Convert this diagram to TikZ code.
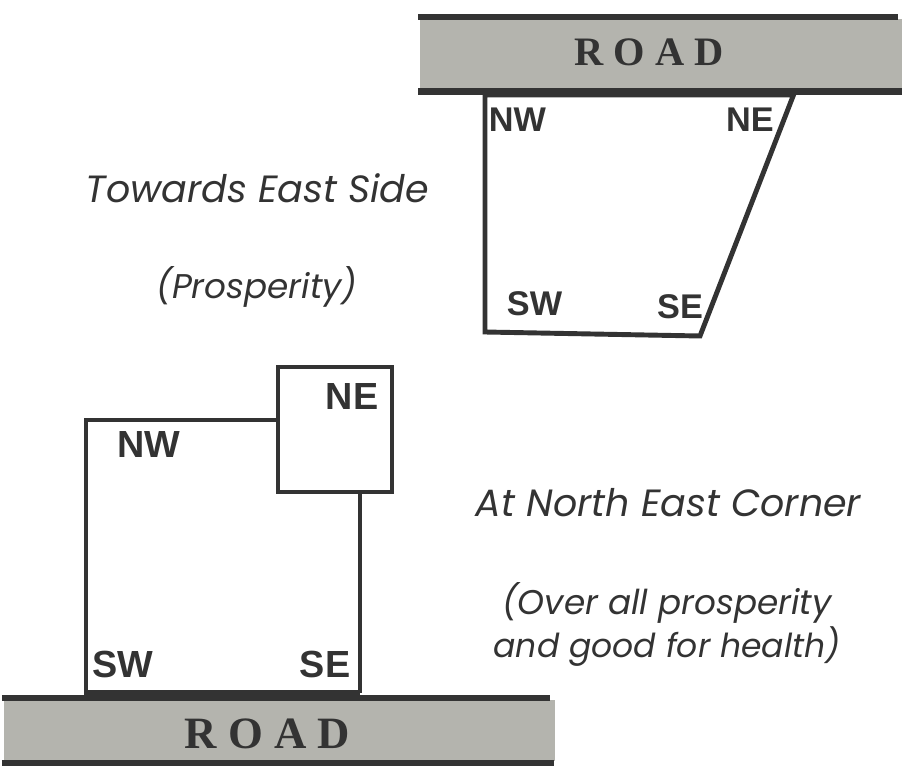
\documentclass[tikz,border=0pt]{standalone}
\usepackage{fontspec}
\setmainfont{Liberation Sans}
\newfontfamily\roadfont{Liberation Serif}
\newfontfamily\notefont{Poppins}
\definecolor{roadgray}{HTML}{B4B4AE}
\definecolor{inkgray}{HTML}{333333}
\tikzset{
  roadline/.style={draw=inkgray,line width=3.5pt},
  lotline/.style={draw=inkgray,line width=2.8pt,line join=miter},
  roadname/.style={text=inkgray,font=\roadfont\bfseries},
  corner/.style={text=inkgray,font=\bfseries},
  note/.style={text=inkgray,font=\notefont\itshape\fontsize{19.5}{24}\selectfont,align=center},
  bignote/.style={text=inkgray,font=\notefont\itshape\fontsize{21.6}{26}\selectfont,align=center}
}
\begin{document}
\begin{tikzpicture}
    \useasboundingbox (0,0) rectangle (18.2,15.46);

    % upper road and plot
    \fill[roadgray] (8.4,13.7) rectangle (18.04,15.08);
    \coordinate (ua) at (8.36,15.12);
    \coordinate (ub) at (17.96,15.12);
    \coordinate (uc) at (8.36,13.63);
    \coordinate (ud) at (18.04,13.63);
    \draw[roadline] (ua)--(ub);
    \draw[roadline] (uc)--(ud);
    \node[roadname,font=\roadfont\bfseries\fontsize{23}{23}\selectfont] (uroad) at (12.98,14.42) {R O A D};
    \coordinate (p1) at (9.7,13.56);
    \coordinate (p2) at (15.87,13.56);
    \coordinate (p3) at (14.0,8.74);
    \coordinate (p4) at (9.7,8.82);
    \draw[lotline] (p1)--(p2)--(p3)--(p4)--cycle;
    \node[corner,font=\bfseries\fontsize{19.5}{20}\selectfont] (unw) at (10.35,13.06) {NW};
    \node[corner,font=\bfseries\fontsize{19.5}{20}\selectfont] (une) at (15.0,13.06) {NE};
    \node[corner,font=\bfseries\fontsize{19.5}{20}\selectfont] (usw) at (10.69,9.39) {SW};
    \node[corner,font=\bfseries\fontsize{19.5}{20}\selectfont] (use) at (13.6,9.32) {SE};

    \node[bignote] (east) at (5.15,11.7) {Towards East Side};
    \node[note] (pros) at (5.14,9.72) {(Prosperity)};

    % lower road and plot
    \fill[roadgray] (0.08,0.24) rectangle (11.1,1.46);
    \coordinate (la) at (0.04,1.5);
    \coordinate (lb) at (11.0,1.5);
    \coordinate (lc) at (0.04,0.2);
    \coordinate (ld) at (11.08,0.2);
    \draw[roadline] (la)--(lb);
    \draw[roadline] (lc)--(ld);
    \node[roadname,font=\roadfont\bfseries\fontsize{25.5}{26}\selectfont] (lroad) at (5.35,0.78) {R O A D};
    \coordinate (q1) at (1.72,1.6);
    \coordinate (q2) at (1.72,7.06);
    \coordinate (q3) at (5.56,7.06);
    \coordinate (q4) at (7.2,5.62);
    \coordinate (q5) at (7.2,1.6);
    \draw[lotline] (q5)--(q1)--(q2)--(q3);
    \draw[lotline] (q4)--(q5);
    \draw[lotline] (5.56,5.62) rectangle (7.84,8.12);
    \draw[roadline] (q1)--(q5);
    \node[corner,font=\bfseries\fontsize{21.5}{22}\selectfont] (lnw) at (2.98,6.56) {NW};
    \node[corner,font=\bfseries\fontsize{21.5}{22}\selectfont] (lne) at (7.04,7.52) {NE};
    \node[corner,font=\bfseries\fontsize{21.5}{22}\selectfont] (lsw) at (2.46,2.18) {SW};
    \node[corner,font=\bfseries\fontsize{21.5}{22}\selectfont] (lse) at (6.5,2.18) {SE};

    \node[bignote] (corn) at (13.37,5.4) {At North East Corner};
    \node[note] (over) at (13.34,3.4) {(Over all prosperity};
    \node[note,font=\notefont\itshape\fontsize{18.8}{23}\selectfont] (good) at (13.34,2.52) {and good for health)};
\end{tikzpicture}
\end{document}
